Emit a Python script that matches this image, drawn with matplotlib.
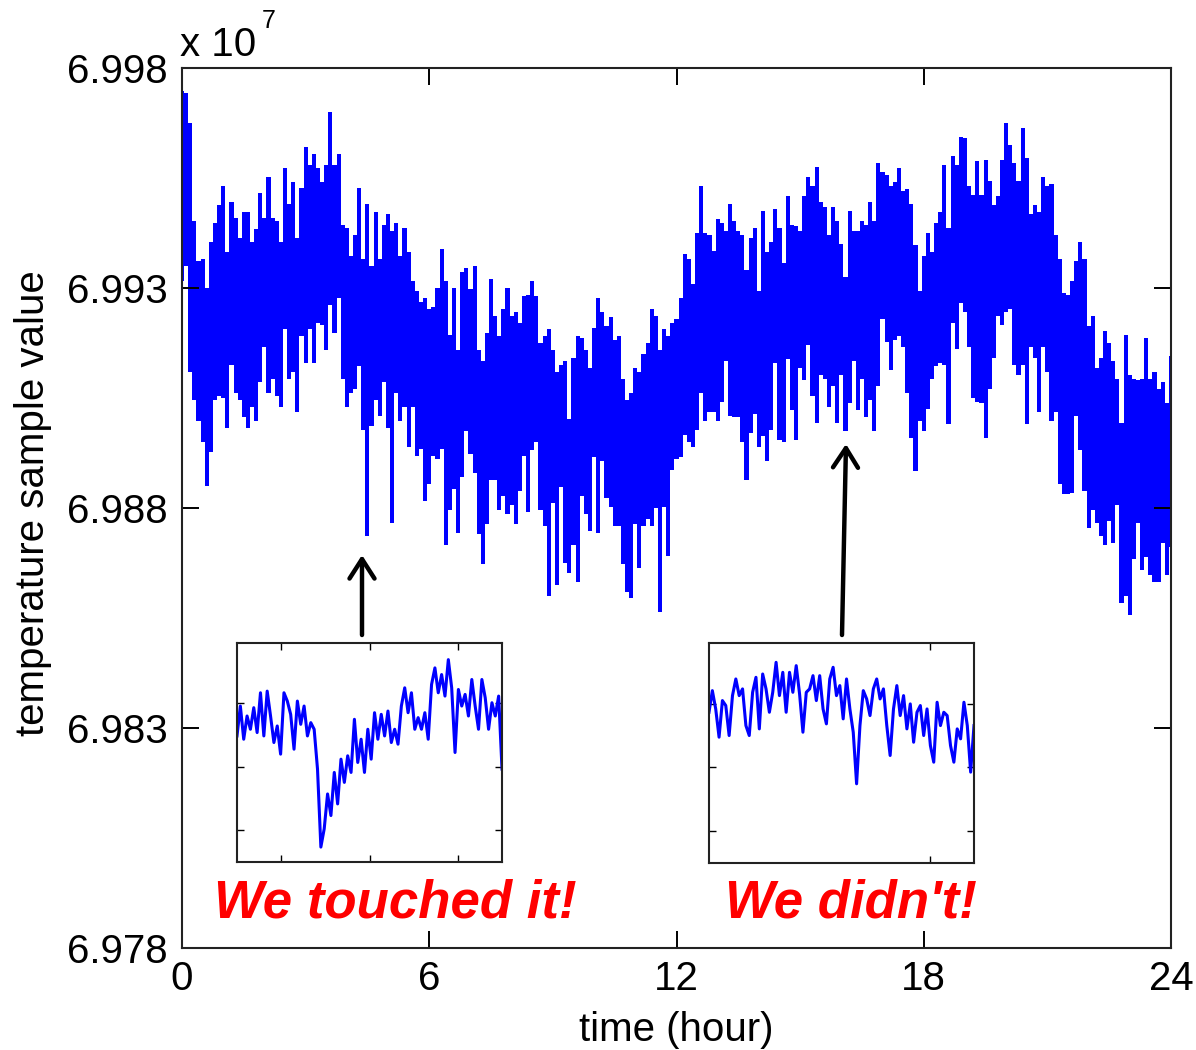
import numpy as np
import matplotlib
matplotlib.use("Agg")
import matplotlib.pyplot as plt

plt.rcParams['font.family'] = ['Liberation Sans', 'DejaVu Sans']

# sensor trace over one day, sampled every 0.1 h (units of 1e7)
# upper / lower excursion of the signal within each sample bin
upper = [
	6.99747, 6.99743, 6.99676, 6.99452, 6.99361, 6.99365, 6.99301, 6.99405, 6.99448, 6.99488,
	6.99532, 6.99381, 6.99496, 6.99460, 6.99413, 6.99472, 6.99472, 6.99405, 6.99433, 6.99516,
	6.99460, 6.99552, 6.99460, 6.99452, 6.99405, 6.99572, 6.99492, 6.99540, 6.99413, 6.99528,
	6.99620, 6.99580, 6.99604, 6.99572, 6.99540, 6.99580, 6.99699, 6.99580, 6.99604, 6.99444,
	6.99437, 6.99373, 6.99421, 6.99528, 6.99365, 6.99492, 6.99349, 6.99472, 6.99365, 6.99444,
	6.99468, 6.99429, 6.99448, 6.99373, 6.99437, 6.99381, 6.99317, 6.99293, 6.99269, 6.99277,
	6.99253, 6.99257, 6.99301, 6.99389, 6.99317, 6.99194, 6.99301, 6.99158, 6.99337, 6.99345,
	6.99297, 6.99349, 6.99158, 6.99134, 6.99198, 6.99321, 6.99237, 6.99190, 6.99253, 6.99301,
	6.99237, 6.99245, 6.99221, 6.99281, 6.99285, 6.99317, 6.99281, 6.99174, 6.99190, 6.99206,
	6.99158, 6.99110, 6.99126, 6.99134, 6.99002, 6.99142, 6.99190, 6.99186, 6.99158, 6.99118,
	6.99210, 6.99277, 6.99245, 6.99213, 6.99233, 6.99182, 6.99190, 6.99094, 6.99046, 6.99062,
	6.99118, 6.99110, 6.99150, 6.99174, 6.99253, 6.99237, 6.99158, 6.99206, 6.99190, 6.99221,
	6.99229, 6.99277, 6.99377, 6.99365, 6.99309, 6.99425, 6.99532, 6.99425, 6.99421, 6.99385,
	6.99456, 6.99448, 6.99429, 6.99492, 6.99452, 6.99429, 6.99421, 6.99341, 6.99413, 6.99437,
	6.99293, 6.99476, 6.99381, 6.99405, 6.99480, 6.99437, 6.99357, 6.99508, 6.99444, 6.99440,
	6.99429, 6.99508, 6.99552, 6.99532, 6.99576, 6.99496, 6.99484, 6.99421, 6.99484, 6.99452,
	6.99401, 6.99325, 6.99476, 6.99429, 6.99429, 6.99452, 6.99444, 6.99496, 6.99452, 6.99584,
	6.99564, 6.99556, 6.99532, 6.99540, 6.99572, 6.99520, 6.99524, 6.99492, 6.99397, 6.99293,
	6.99373, 6.99425, 6.99381, 6.99448, 6.99472, 6.99580, 6.99437, 6.99600, 6.99580, 6.99644,
	6.99640, 6.99532, 6.99512, 6.99588, 6.99512, 6.99592, 6.99544, 6.99488, 6.99508, 6.99592,
	6.99676, 6.99624, 6.99584, 6.99544, 6.99664, 6.99596, 6.99468, 6.99488, 6.99472, 6.99552,
	6.99532, 6.99536, 6.99421, 6.99365, 6.99289, 6.99285, 6.99317, 6.99361, 6.99405, 6.99365,
	6.99213, 6.99237, 6.99118, 6.99142, 6.99202, 6.99174, 6.99134, 6.99094, 6.98994, 6.99194,
	6.99102, 6.99094, 6.99090, 6.99094, 6.99186, 6.99094, 6.99110, 6.99070, 6.99086, 6.99038,
	6.99146,
]
lower = [
	6.99317, 6.99349, 6.99110, 6.99046, 6.98998, 6.98951, 6.98851, 6.98927, 6.99046, 6.99054,
	6.99050, 6.98982, 6.99126, 6.99062, 6.99046, 6.99006, 6.98982, 6.99030, 6.98998, 6.99086,
	6.99166, 6.99062, 6.99094, 6.99054, 6.99030, 6.99206, 6.99094, 6.99110, 6.99018, 6.99190,
	6.99130, 6.99206, 6.99130, 6.99221, 6.99215, 6.99158, 6.99261, 6.99198, 6.99277, 6.99094,
	6.99030, 6.99062, 6.99070, 6.99122, 6.98978, 6.98736, 6.98986, 6.99046, 6.99010, 6.99086,
	6.98982, 6.98767, 6.99062, 6.98998, 6.99030, 6.98939, 6.99030, 6.98919, 6.98935, 6.98815,
	6.98855, 6.98919, 6.98911, 6.98935, 6.98716, 6.98795, 6.98843, 6.98743, 6.98871, 6.98974,
	6.98923, 6.98879, 6.98740, 6.98672, 6.98763, 6.98863, 6.98863, 6.98795, 6.98827, 6.98787,
	6.98807, 6.98763, 6.98839, 6.98919, 6.98791, 6.98931, 6.98951, 6.98795, 6.98759, 6.98600,
	6.98811, 6.98624, 6.98847, 6.98676, 6.98652, 6.98716, 6.98632, 6.98827, 6.98787, 6.98747,
	6.98915, 6.98743, 6.98907, 6.98823, 6.98803, 6.98759, 6.98759, 6.98672, 6.98608, 6.98596,
	6.98763, 6.98664, 6.98759, 6.98775, 6.98759, 6.98799, 6.98564, 6.98803, 6.98692, 6.98887,
	6.98911, 6.98915, 6.98967, 6.98951, 6.98939, 6.98978, 6.99062, 6.98998, 6.99018, 6.99018,
	6.98998, 6.99042, 6.99134, 6.99010, 6.99006, 6.99006, 6.98951, 6.98863, 6.98971, 6.99014,
	6.98939, 6.98963, 6.98907, 6.98978, 6.99130, 6.98955, 6.98951, 6.99138, 6.99022, 6.98955,
	6.99118, 6.99090, 6.99170, 6.99054, 6.98994, 6.99102, 6.99094, 6.99030, 6.99078, 6.98994,
	6.99102, 6.98975, 6.99038, 6.99134, 6.99022, 6.99094, 6.99006, 6.99046, 6.98975, 6.99078,
	6.99229, 6.99178, 6.99114, 6.99182, 6.99190, 6.99166, 6.99062, 6.98959, 6.98883, 6.98998,
	6.98974, 6.99026, 6.99094, 6.99122, 6.99130, 6.99126, 6.98990, 6.99221, 6.99162, 6.99265,
	6.99245, 6.99166, 6.99050, 6.99042, 6.99038, 6.98959, 6.99070, 6.99142, 6.99237, 6.99217,
	6.99245, 6.99253, 6.99126, 6.99102, 6.99126, 6.98990, 6.99166, 6.99142, 6.99018, 6.99166,
	6.99110, 6.98998, 6.99018, 6.98855, 6.98831, 6.98831, 6.98835, 6.99010, 6.98931, 6.98839,
	6.98755, 6.98795, 6.98767, 6.98736, 6.98716, 6.98771, 6.98720, 6.98807, 6.98584, 6.98600,
	6.98556, 6.98684, 6.98767, 6.98660, 6.98688, 6.98648, 6.98632, 6.98632, 6.98720, 6.98648,
	6.98712,
]
hours = np.linspace(0, 24, len(upper))

# zoomed-in windows (arbitrary units)
touched = [
	1.986, 2.457, 1.934, 2.300, 2.091, 2.431, 2.039, 2.666, 1.986, 2.692,
	2.300, 1.882, 2.143, 1.699, 2.666, 2.535, 2.326, 1.777, 2.535, 2.169,
	2.457, 1.986, 2.195, 2.091, 1.464, 0.235, 0.523, 1.072, 0.732, 1.411,
	0.915, 1.620, 1.254, 1.673, 1.411, 2.248, 1.568, 1.934, 1.411, 2.091,
	1.620, 2.352, 1.934, 2.326, 1.986, 2.378, 1.882, 2.091, 1.856, 2.457,
	2.744, 2.352, 2.666, 2.091, 2.274, 2.091, 2.352, 1.934, 2.796, 3.058,
	2.666, 2.953, 2.614, 3.188, 2.744, 1.725, 2.718, 2.457, 2.640, 2.300,
	2.875, 2.457, 2.091, 2.875, 2.587, 2.091, 2.509, 2.300, 2.614, 1.464,
]
untouched = [
	2.364, 2.703, 2.416, 1.973, 2.547, 2.469, 1.999, 2.625, 2.886, 2.625,
	2.730, 2.155, 1.999, 2.677, 2.912, 2.103, 2.964, 2.730, 2.364, 2.677,
	3.147, 2.625, 2.990, 2.364, 2.990, 2.677, 3.095, 2.651, 2.051, 2.677,
	2.730, 2.938, 2.547, 2.938, 2.416, 2.182, 2.886, 3.069, 2.625, 2.782,
	2.260, 2.886, 2.416, 2.051, 1.242, 2.155, 2.703, 2.573, 2.312, 2.730,
	2.886, 2.573, 2.730, 2.155, 1.686, 2.416, 2.782, 2.312, 2.625, 2.103,
	2.495, 1.894, 2.364, 2.469, 1.999, 2.416, 1.842, 1.581, 2.521, 2.155,
	2.364, 2.312, 1.842, 1.581, 2.103, 1.947, 2.521, 2.155, 1.425, 2.155,
]

xticks = [0, 6, 12, 18, 24]
yticks = [6.978, 6.983, 6.988, 6.993, 6.998]

W, H = 1196, 1050
fig = plt.figure(figsize=(W / 100, H / 100), dpi=100)
fig.patch.set_facecolor('white')

def box(x0, y0, x1, y1):
	# pixel box (top-left origin) -> figure fraction rect
	return [x0 / W, 1 - y1 / H, (x1 - x0) / W, (y1 - y0) / H]

ax = fig.add_axes(box(182, 68, 1171, 948))
ax.fill_between(hours, lower, upper, step='mid', color=(0, 0, 1), lw=0)
ax.set_xlim(0, 24)
ax.set_ylim(6.978, 6.998)
ax.set_xticks(xticks)
ax.set_yticks(yticks)
ax.set_xticklabels([str(x) for x in xticks])
ax.set_yticklabels(["%.3f" % y for y in yticks])
ax.tick_params(direction='in', length=12, width=1.4, top=True, right=True,
	       labelsize=29, colors='k')
ax.tick_params(axis='y', pad=10)
ax.tick_params(axis='x', pad=9)
for s in ax.spines.values():
	s.set_linewidth(1.5)
	s.set_color('#222222')
ax.set_xlabel("time (hour)", fontsize=29, labelpad=9)
ax.set_ylabel("temperature sample value", fontsize=29)
ax.yaxis.set_label_coords(-0.131, 0.505)

fig.text(180 / W, 1 - 56 / H, "x 10", fontsize=29, ha='left', va='baseline')
fig.text(262 / W, 1 - 28 / H, "7", fontsize=18, ha='left', va='baseline')

def inset(rect, values, xt):
	a = fig.add_axes(rect)
	a.plot(np.linspace(0, 300, len(values)), values, color=(0, 0, 1), lw=2.2)
	a.set_xlim(0, 300)
	a.set_ylim(0, 3.45)
	a.set_xticks(xt)
	a.set_yticks([0.5, 1.5, 2.5])
	a.set_xticklabels([])
	a.set_yticklabels([])
	a.tick_params(direction='in', length=5, width=1.0, top=True, right=True)
	for s in a.spines.values():
		s.set_linewidth(1.5)
		s.set_color('#222222')
	return a

inset(box(237, 643, 502, 862), touched, [50, 150, 250])
inset(box(709, 643, 974, 863), untouched, [250])

arrow = dict(arrowstyle='->,head_length=0.7,head_width=0.45', lw=3.2,
	     color='k', mutation_scale=20, shrinkA=0, shrinkB=0)
ax.annotate('', xy=(362, H - 555), xytext=(362, H - 635),
	    xycoords='figure pixels', textcoords='figure pixels', arrowprops=arrow)
ax.annotate('', xy=(846, H - 444), xytext=(842, H - 635),
	    xycoords='figure pixels', textcoords='figure pixels', arrowprops=arrow)

fig.text(395 / W, 1 - 903 / H, "We touched it!", color='red', fontsize=38,
	 fontweight='bold', fontstyle='italic', ha='center', va='center')
fig.text(851 / W, 1 - 903 / H, "We didn't!", color='red', fontsize=38,
	 fontweight='bold', fontstyle='italic', ha='center', va='center')

fig.savefig("out.png", dpi=100)
